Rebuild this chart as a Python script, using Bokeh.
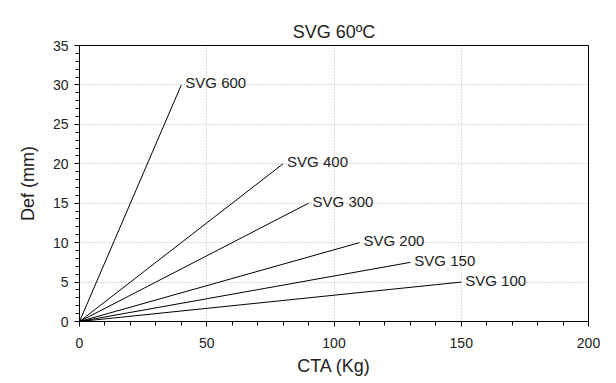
from bokeh.plotting import figure
from bokeh.models import Range1d, FixedTicker, ColumnDataSource, Title
from bokeh.core.properties import value
from bokeh.embed import file_html
from bokeh.resources import INLINE

# Data
series = ["SVG 600", "SVG 400", "SVG 300", "SVG 200", "SVG 150", "SVG 100"]
cta_end = [40, 80, 90, 110, 130, 150]
def_end = [30, 20, 15, 10, 7.5, 5]
x_ticks = [0, 50, 100, 150, 200]
y_ticks = [0, 5, 10, 15, 20, 25, 30, 35]

FONT = "Liberation Sans"
TXT = "#222222"

p = figure(width=608, height=380, output_backend="svg", toolbar_location=None,
           x_range=Range1d(0, 200), y_range=Range1d(0, 35),
           min_border_left=79, min_border_right=20, min_border_top=45, min_border_bottom=59)
p.title = Title(text="SVG 60ºC", align="center", text_font=FONT, text_font_size="18px",
                text_font_style="normal", text_color=TXT, standoff=8)

p.outline_line_color = "black"
p.outline_line_width = 1
p.background_fill_color = "white"
p.border_fill_color = "white"

for ax in (p.xaxis[0], p.yaxis[0]):
    ax.axis_line_color = "black"
    ax.major_tick_line_color = "black"
    ax.minor_tick_line_color = "black"
    ax.major_tick_in = 0
    ax.minor_tick_in = 0
    ax.major_tick_out = 5
    ax.minor_tick_out = 4
    ax.major_label_text_font = FONT
    ax.major_label_text_font_size = "14px"
    ax.major_label_text_color = TXT
    ax.axis_label_text_font = FONT
    ax.axis_label_text_font_size = "18px"
    ax.axis_label_text_font_style = "normal"
    ax.axis_label_text_color = TXT

p.xaxis[0].ticker = FixedTicker(ticks=x_ticks, minor_ticks=list(range(0, 201, 10)))
p.yaxis[0].ticker = FixedTicker(ticks=y_ticks, minor_ticks=list(range(0, 36, 1)))
p.xaxis.axis_label = "CTA (Kg)"
p.yaxis.axis_label = "Def (mm)"
p.xaxis.major_label_standoff = 11
p.yaxis.major_label_standoff = 6
p.xaxis.axis_label_standoff = 5
p.yaxis.axis_label_standoff = 12

p.xgrid.grid_line_color = "#b8b8b8"
p.ygrid.grid_line_color = "#b8b8b8"
p.xgrid.grid_line_dash = "1 2"
p.ygrid.grid_line_dash = "1 2"

src = ColumnDataSource(dict(
    x0=[0] * len(series), y0=[0] * len(series),
    x1=cta_end, y1=def_end, label=series))
p.segment(x0="x0", y0="y0", x1="x1", y1="y1", source=src, line_color="black", line_width=1)
p.text(x="x1", y="y1", text="label", source=src, x_offset=4, y_offset=-2,
       text_font=value(FONT), text_font_size="15px", text_color=TXT,
       text_baseline="alphabetic", text_align="left")

open("out.html", "w").write(file_html(p, INLINE))
